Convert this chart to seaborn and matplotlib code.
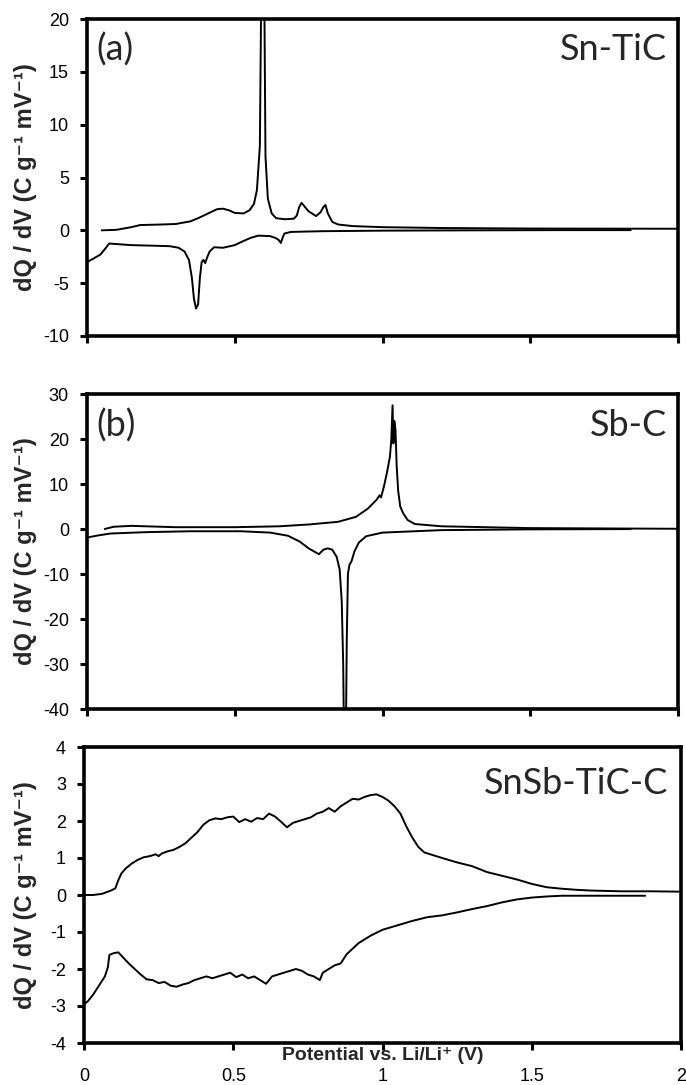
import matplotlib
matplotlib.use("Agg")
import matplotlib.pyplot as plt
import seaborn as sns

# ---------------- data ----------------
# (a) Sn-TiC
a_x_charge = [0.05, 0.10, 0.15, 0.18, 0.25, 0.30, 0.35, 0.38, 0.41, 0.44,
              0.46, 0.48, 0.50, 0.53, 0.55, 0.565, 0.575, 0.585, 0.592, 0.598,
              0.604, 0.612, 0.625, 0.64, 0.67, 0.70, 0.71, 0.718, 0.726, 0.735,
              0.75, 0.775, 0.79, 0.80, 0.807, 0.815, 0.83, 0.85, 0.90, 1.0,
              1.2, 1.5, 2.0]
a_y_charge = [0.0, 0.05, 0.3, 0.5, 0.55, 0.6, 0.85, 1.2, 1.6, 2.0,
              2.05, 1.9, 1.65, 1.6, 1.9, 2.5, 3.8, 8.0, 30.0, 30.0,
              7.0, 3.0, 1.6, 1.15, 1.05, 1.1, 1.4, 2.2, 2.6, 2.3,
              1.8, 1.35, 1.7, 2.2, 2.4, 1.6, 0.8, 0.55, 0.4, 0.3,
              0.22, 0.17, 0.15]
a_x_discharge = [0.0, 0.02, 0.045, 0.06, 0.075, 0.10, 0.15, 0.22, 0.28, 0.31,
                 0.33, 0.345, 0.355, 0.362, 0.369, 0.376, 0.382, 0.388, 0.394, 0.40,
                 0.406, 0.415, 0.43, 0.46, 0.50, 0.53, 0.555, 0.58, 0.62, 0.64,
                 0.65, 0.656, 0.662, 0.668, 0.69, 0.80, 1.0, 1.3, 1.6, 1.84]
a_y_discharge = [-3.0, -2.7, -2.3, -1.8, -1.25, -1.3, -1.4, -1.45, -1.5, -1.65,
                 -2.0, -2.8, -4.5, -6.5, -7.4, -7.0, -4.5, -3.0, -2.8, -3.1,
                 -2.6, -2.0, -1.6, -1.65, -1.4, -1.0, -0.7, -0.5, -0.55, -0.75,
                 -0.95, -1.2, -0.7, -0.3, -0.15, -0.08, -0.03, 0.0, 0.02, 0.02]

# (b) Sb-C
b_x_charge = [0.06, 0.09, 0.15, 0.30, 0.50, 0.65, 0.75, 0.85, 0.91, 0.95,
              0.98, 0.99, 0.995, 1.005, 1.015, 1.025, 1.030, 1.034, 1.037, 1.040,
              1.044, 1.048, 1.053, 1.06, 1.07, 1.085, 1.11, 1.20, 1.50, 2.0]
b_y_charge = [0.0, 0.5, 0.7, 0.4, 0.4, 0.6, 1.0, 1.6, 2.7, 4.5,
              6.5, 7.5, 7.0, 9.5, 12.5, 16.0, 20.0, 27.5, 19.0, 24.0,
              22.0, 14.0, 8.5, 5.0, 3.5, 2.0, 1.1, 0.6, 0.2, 0.05]
b_x_discharge = [0.0, 0.04, 0.08, 0.20, 0.35, 0.52, 0.62, 0.68, 0.72, 0.75,
                 0.785, 0.80, 0.815, 0.83, 0.845, 0.855, 0.862, 0.867, 0.871, 0.875,
                 0.879, 0.883, 0.888, 0.895, 0.905, 0.92, 0.945, 1.0, 1.2, 1.5,
                 1.84]
b_y_discharge = [-1.9, -1.4, -1.0, -0.7, -0.5, -0.5, -0.8, -1.5, -2.8, -4.3,
                 -5.6, -4.6, -4.3, -4.6, -6.2, -9.0, -16.0, -30.0, -55.0, -55.0,
                 -25.0, -10.0, -8.0, -7.2, -5.0, -3.0, -1.6, -0.8, -0.25, -0.08,
                 -0.02]

# (c) SnSb-TiC-C
c_x_charge = [0, 0.03, 0.06, 0.09, 0.105, 0.115, 0.125, 0.14, 0.16, 0.18,
              0.20, 0.22, 0.24, 0.25, 0.26, 0.28, 0.30, 0.32, 0.34, 0.36,
              0.38, 0.40, 0.42, 0.44, 0.46, 0.48, 0.50, 0.52, 0.54, 0.56,
              0.58, 0.60, 0.62, 0.64, 0.66, 0.68, 0.70, 0.72, 0.74, 0.76,
              0.78, 0.80, 0.82, 0.84, 0.86, 0.88, 0.90, 0.92, 0.94, 0.96,
              0.98, 1.00, 1.02, 1.04, 1.06, 1.08, 1.10, 1.12, 1.14, 1.16,
              1.20, 1.25, 1.30, 1.35, 1.40, 1.45, 1.50, 1.55, 1.60, 1.65,
              1.70, 1.80, 1.90, 2.00]
c_y_charge = [0, 0, 0.03, 0.12, 0.18, 0.4, 0.58, 0.72, 0.85, 0.95,
              1.02, 1.05, 1.1, 1.05, 1.12, 1.18, 1.22, 1.3, 1.4, 1.55,
              1.7, 1.9, 2.02, 2.07, 2.05, 2.1, 2.12, 1.97, 2.05, 1.98,
              2.08, 2.05, 2.2, 2.12, 1.98, 1.83, 1.95, 2.0, 2.05, 2.1,
              2.2, 2.25, 2.35, 2.25, 2.4, 2.5, 2.6, 2.58, 2.65, 2.7,
              2.72, 2.65, 2.55, 2.4, 2.2, 1.85, 1.55, 1.3, 1.15, 1.1,
              1.0, 0.88, 0.78, 0.62, 0.52, 0.42, 0.3, 0.21, 0.17, 0.14,
              0.12, 0.1, 0.1, 0.09]
c_x_discharge = [0.005, 0.012, 0.03, 0.05, 0.07, 0.08, 0.085, 0.10, 0.115, 0.13,
                 0.15, 0.17, 0.19, 0.21, 0.23, 0.25, 0.27, 0.29, 0.31, 0.33,
                 0.35, 0.37, 0.39, 0.41, 0.43, 0.45, 0.47, 0.49, 0.51, 0.53,
                 0.55, 0.57, 0.59, 0.61, 0.63, 0.65, 0.67, 0.69, 0.71, 0.73,
                 0.75, 0.77, 0.79, 0.80, 0.82, 0.84, 0.86, 0.88, 0.90, 0.92,
                 0.94, 0.96, 0.98, 1.00, 1.05, 1.10, 1.15, 1.20, 1.25, 1.30,
                 1.35, 1.40, 1.45, 1.50, 1.55, 1.60, 1.65, 1.70, 1.80, 1.88]
c_y_discharge = [-2.92, -2.88, -2.7, -2.45, -2.2, -1.95, -1.62, -1.57, -1.55, -1.68,
                 -1.85, -2.0, -2.15, -2.28, -2.3, -2.38, -2.35, -2.45, -2.48, -2.42,
                 -2.38, -2.3, -2.25, -2.2, -2.25, -2.2, -2.15, -2.1, -2.22, -2.15,
                 -2.25, -2.2, -2.3, -2.4, -2.2, -2.15, -2.1, -2.05, -2.0, -2.05,
                 -2.15, -2.2, -2.3, -2.1, -2.0, -1.9, -1.85, -1.6, -1.45, -1.3,
                 -1.2, -1.1, -1.02, -0.94, -0.82, -0.7, -0.6, -0.55, -0.47, -0.38,
                 -0.3, -0.2, -0.12, -0.07, -0.04, -0.02, -0.02, -0.02, -0.02, -0.02]

x_ticks = [0, 0.5, 1, 1.5, 2]
x_tick_labels = ["0", "0.5", "1", "1.5", "2"]
a_yticks = [-10, -5, 0, 5, 10, 15, 20]
b_yticks = [-40, -30, -20, -10, 0, 10, 20, 30]
c_yticks = [-4, -3, -2, -1, 0, 1, 2, 3, 4]

panel_tags = ["(a)", "(b)", ""]
panel_names = ["Sn-TiC", "Sb-C", "SnSb-TiC-C"]
ylabel_text = "dQ / dV (C g\u207b\u00b9 mV\u207b\u00b9)"
xlabel_text = "Potential vs. Li/Li\u207a (V)"

# ---------------- style ----------------
sns.set_style("ticks")
plt.rcParams["font.family"] = ["Liberation Sans", "DejaVu Sans"]

W, H = 686, 1085
fig = plt.figure(figsize=(W / 100, H / 100), dpi=100)

def px_axes(left, right, top, bottom):
    return [left / W, 1 - bottom / H, (right - left) / W, (bottom - top) / H]

ax_a = fig.add_axes(px_axes(87, 678, 19, 336))
ax_b = fig.add_axes(px_axes(87, 678, 394, 709))
ax_c = fig.add_axes(px_axes(84, 681, 747, 1043))

panels = [
    (ax_a, a_x_charge, a_y_charge, a_x_discharge, a_y_discharge, (-10, 20), a_yticks, (19, 336)),
    (ax_b, b_x_charge, b_y_charge, b_x_discharge, b_y_discharge, (-40, 30), b_yticks, (394, 709)),
    (ax_c, c_x_charge, c_y_charge, c_x_discharge, c_y_discharge, (-4, 4), c_yticks, (747, 1043)),
]

label_font = ["Lato", "DejaVu Sans"]
tag_y = [0.905, 0.90, 0.878]

for i, (ax, xc, yc, xd, yd, ylim, yt, (ptop, pbot)) in enumerate(panels):
    sns.lineplot(x=xc, y=yc, ax=ax, color="black", linewidth=1.4,
                 sort=False, estimator=None)
    sns.lineplot(x=xd, y=yd, ax=ax, color="black", linewidth=1.4,
                 sort=False, estimator=None)
    ax.set_xlim(0, 2)
    ax.set_ylim(*ylim)
    ax.set_yticks(yt)
    ax.set_yticklabels([str(v) for v in yt])
    ax.set_xticks(x_ticks)
    for s in ax.spines.values():
        s.set_visible(True)
        s.set_linewidth(2.6)
        s.set_color("black")
    ax.tick_params(axis="both", direction="out", length=5, width=2.2,
                   labelsize=13, colors="black")
    ax.tick_params(axis="y", pad=8)
    if i < 2:
        ax.tick_params(axis="x", labelbottom=False)
    else:
        ax.set_xticklabels(x_tick_labels)
        ax.tick_params(axis="x", pad=13)
    ax.set_xlabel("")
    ax.set_ylabel("")
    fig.text(26 / W, 1 - ((ptop + pbot) / 2) / H, ylabel_text, rotation=90,
             ha="center", va="center", fontsize=17, fontweight="bold")
    if panel_tags[i]:
        ax.text(0.016, tag_y[i], panel_tags[i], transform=ax.transAxes,
                ha="left", va="center", fontsize=26, family=label_font)
    ax.text(0.982 if i < 2 else 0.978, tag_y[i], panel_names[i], transform=ax.transAxes,
            ha="right", va="center", fontsize=26, family=label_font)

fig.text(383 / W, 1 - 1055 / H, xlabel_text, ha="center", va="center",
         fontsize=14, fontweight="bold")

fig.savefig("out.png", dpi=100)
